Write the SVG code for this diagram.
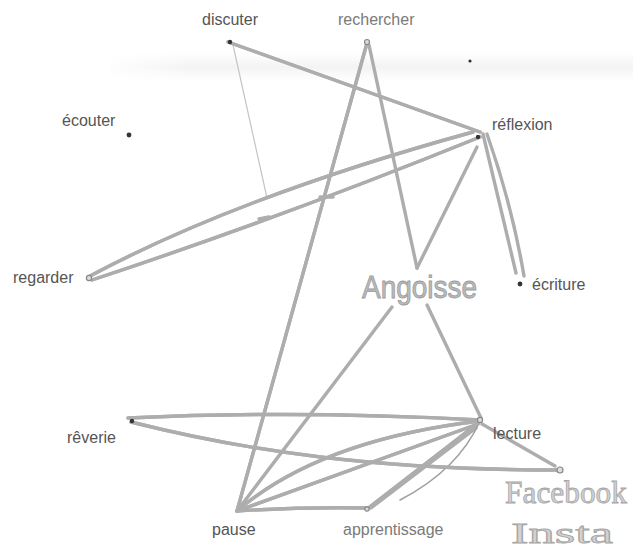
<svg xmlns="http://www.w3.org/2000/svg" xmlns:xlink="http://www.w3.org/1999/xlink" width="633" height="552" viewBox="0 0 633 552">
<style>
  .lbl{font-family:"Liberation Sans",Arial,sans-serif;font-size:16px;fill:#555}
  .faint{fill:#7a7a7a}
  .hand{font-family:"Liberation Sans",Arial,sans-serif;fill:#bdbdbd;stroke:#9c9c9c;stroke-width:0.9}
  .handserif{font-family:"Liberation Serif","Times New Roman",serif;fill:#d2d2d2;stroke:#a6a6a6;stroke-width:0.8}
  .p{fill:none;stroke:#adadad;stroke-width:3.4;stroke-linecap:round;stroke-linejoin:round}
  .hl{fill:none;stroke:#d8d8d8;stroke-width:1;stroke-linecap:round}
  .thin{fill:none;stroke:#c4c4c4;stroke-width:1.2;stroke-linecap:round}
  .thinmid{fill:none;stroke:#a0a0a0;stroke-width:1.6;stroke-linecap:round}
  .dot{fill:#333}
  .ring{fill:#ddd;stroke:#888;stroke-width:1.2}
</style>
<defs>
  <linearGradient id="smudge" x1="0" y1="0" x2="0" y2="1">
    <stop offset="0" stop-color="#f3f3f3" stop-opacity="0"/>
    <stop offset="0.5" stop-color="#f0f0f0" stop-opacity="0.8"/>
    <stop offset="1" stop-color="#f3f3f3" stop-opacity="0"/>
  </linearGradient>
  <linearGradient id="fadeL" x1="0" y1="0" x2="1" y2="0">
    <stop offset="0" stop-color="#fff" stop-opacity="1"/>
    <stop offset="1" stop-color="#fff" stop-opacity="0"/>
  </linearGradient>
</defs>
<rect width="633" height="552" fill="#ffffff"/>
<rect x="110" y="52" width="523" height="30" fill="url(#smudge)"/>
<rect x="100" y="50" width="90" height="34" fill="url(#fadeL)"/>

<g id="connectors">
  <path id="e1" class="p" d="M228,42 L480,132"/>
  <path id="e2" class="thin" d="M233,45 L267,198"/>
  <path id="e3" class="p" d="M367,43 L237,511"/>
  <path id="e4" class="p" d="M369,45 L417,268"/>
  <path id="e5" class="p" d="M90,276 Q240,196 473,132"/>
  <path id="e6" class="p" d="M92,280 Q280,218 480,137"/>
  <path id="e7" class="p" d="M477,147 L417,268"/>
  <path id="e8" class="p" d="M483,134 L516,273"/>
  <path id="e9" class="p" d="M487,134 Q512,205 524,276"/>
  <path id="e10" class="p" d="M392,307 L237,511"/>
  <path id="e11" class="p" d="M427,305 L481,418"/>
  <path id="e12" class="p" d="M128,418 Q300,410 480,420"/>
  <path id="e13" class="p" d="M131,422 C250,452 380,470 560,470"/>
  <path id="e14" class="p" d="M482,424 L555,466"/>
  <path id="e15" class="p" d="M237,511 Q320,440 480,421"/>
  <path id="e16" class="p" d="M237,511 L478,424"/>
  <path id="e17" class="p" d="M237,511 Q300,507 367,508"/>
  <path id="e18" class="p" d="M367,509 L473,427"/>
  <path id="e19" class="p" d="M371,508 L476,428"/>
  <path id="e20" class="thinmid" d="M400,500 Q458,470 480,421"/>
  <path id="t1" class="p" d="M320,197 L333,197"/>
  <path id="t2" class="p" d="M259,219 L269,217"/>
</g>
<g id="connector-texture">
  <use xlink:href="#e1" class="hl"/>
  <use xlink:href="#e3" class="hl"/>
  <use xlink:href="#e5" class="hl"/>
  <use xlink:href="#e6" class="hl"/>
  <use xlink:href="#e12" class="hl"/>
  <use xlink:href="#e13" class="hl"/>
  <use xlink:href="#e15" class="hl"/>
  <use xlink:href="#e16" class="hl"/>
  <use xlink:href="#e17" class="hl"/>
  <use xlink:href="#e18" class="hl"/>
</g>

<g id="n-discuter"><circle class="dot" cx="230" cy="42" r="2.2"/><text class="lbl" x="202" y="25">discuter</text></g>
<g id="n-rechercher"><circle class="ring" cx="367" cy="42" r="2.5"/><text class="lbl faint" x="338" y="25">rechercher</text></g>
<g id="n-point"><circle class="dot" cx="470" cy="61" r="1.6"/></g>
<g id="n-ecouter"><circle class="dot" cx="129" cy="135" r="2.4"/><text class="lbl" x="62" y="126">écouter</text></g>
<g id="n-reflexion"><circle class="dot" cx="478" cy="137" r="2.2"/><text class="lbl" x="492" y="130">réflexion</text></g>
<g id="n-regarder"><circle class="ring" cx="89" cy="278" r="2.6"/><text class="lbl" x="13" y="283">regarder</text></g>
<g id="n-ecriture"><circle class="dot" cx="520" cy="284" r="2.4"/><text class="lbl" x="532" y="290">écriture</text></g>
<g id="n-angoisse"><text class="hand" x="362" y="298" font-size="32" textLength="115" lengthAdjust="spacingAndGlyphs">Angoisse</text></g>
<g id="n-reverie"><circle class="dot" cx="132" cy="421" r="2.2"/><text class="lbl" x="67" y="443">rêverie</text></g>
<g id="n-lecture"><circle class="ring" cx="480" cy="420" r="2.6"/><text class="lbl" x="493" y="439">lecture</text></g>
<g id="n-facebook"><circle class="ring" cx="560" cy="470" r="3"/><text class="handserif" x="505" y="503" font-size="31" textLength="122" lengthAdjust="spacingAndGlyphs">Facebook</text></g>
<g id="n-insta"><text class="handserif" x="511" y="543" font-size="29" textLength="102" lengthAdjust="spacingAndGlyphs">Insta</text></g>
<g id="n-pause"><text class="lbl" x="212" y="535">pause</text></g>
<g id="n-apprentissage"><circle class="ring" cx="367" cy="509" r="2.2"/><text class="lbl faint" x="343" y="535">apprentissage</text></g>
</svg>
